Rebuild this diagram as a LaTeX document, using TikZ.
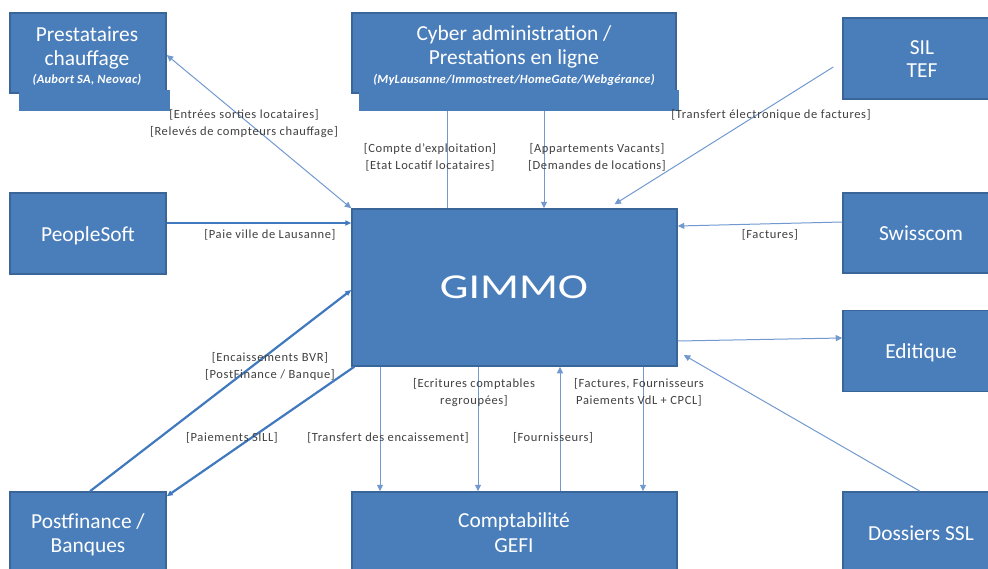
\documentclass[tikz,border=0pt]{standalone}
\usepackage{fontspec}
\setmainfont{Carlito}
\usepackage{graphicx}
\usetikzlibrary{arrows.meta}
\definecolor{boxfill}{HTML}{4A7EBB}
\definecolor{boxline}{HTML}{3A6598}
\definecolor{lnk}{HTML}{7199CF}
\definecolor{lnkdark}{HTML}{4079BD}
\definecolor{lbl}{HTML}{404040}
\begin{document}
\begin{tikzpicture}[x=1pt,y=-1pt,
  box/.style={draw=boxline,line width=1.5pt,fill=boxfill,inner sep=0pt},
  btxt/.style={text=white,inner sep=0pt,anchor=base,font=\fontsize{21.4}{25}\selectfont},
  stxt/.style={text=white,inner sep=0pt,anchor=base,font=\fontsize{12.5}{14}\selectfont\bfseries\itshape\addfontfeatures{LetterSpace=2}},
  lab/.style={text=lbl,font=\fontsize{12.5}{17}\selectfont\addfontfeatures{LetterSpace=5},inner sep=0pt,align=center},
  thinlink/.style={draw=lnk,line width=1pt,-{Triangle[length=6.5pt,width=6pt]}},
  thicklink/.style={draw=lnkdark,line width=2.2pt,-{Triangle[length=6pt,width=5pt]}},
]
\useasboundingbox (0,0) rectangle (988,568);
\clip (0,0) rectangle (988,568);

% boxes
\node[box,minimum width=156pt,minimum height=80pt] (pres) at (88,53) {};
\node[box,minimum width=324pt,minimum height=80pt] (cyber) at (514,53) {};
\node[box,minimum width=156pt,minimum height=81pt] (sil) at (921,58.5) {};
\node[box,minimum width=156pt,minimum height=81pt] (peop) at (88,233.5) {};
\node[box,minimum width=325pt,minimum height=157pt] (gimmo) at (514.5,287.5) {};
\node[box,minimum width=156pt,minimum height=80pt] (swiss) at (921,233) {};
\node[box,minimum width=156pt,minimum height=81pt] (edit) at (921,351) {};
\node[box,minimum width=156pt,minimum height=80pt] (doss) at (921,532) {};
\node[box,minimum width=325pt,minimum height=80pt] (compta) at (514.5,532) {};
\node[box,minimum width=156pt,minimum height=80pt] (postf) at (88,532) {};

% box texts
\node[btxt] (tpres1) at (87,41) {Prestataires};
\node[btxt] (tpres2) at (87,65) {chauffage};
\node[stxt] (tpres3) at (87,83) {(Aubort SA, Neovac)};
\node[btxt] (tcy1) at (514,40) {Cyber administration /};
\node[btxt] (tcy2) at (514,64) {Prestations en ligne};
\node[stxt] (tcy3) at (514,83) {(MyLausanne/Immostreet/HomeGate/Webgérance)};
\node[btxt] (tsil1) at (922,54) {SIL};
\node[btxt] (tsil2) at (922,77) {TEF};
\node[btxt] (tpeop) at (88,241) {PeopleSoft};
\node[btxt] (tswiss) at (921,240) {Swisscom};
\node[btxt] (tedit) at (921,358) {Editique};
\node[btxt] (tdoss) at (921,540) {Dossiers SSL};
\node[btxt] (tcomp1) at (514,527) {Comptabilité};
\node[btxt] (tcomp2) at (514,552) {GEFI};
\node[btxt] (tpost1) at (88,528) {Postfinance /};
\node[btxt] (tpost2) at (88,552) {Banques};
\node[text=white,inner sep=0pt,anchor=base,font=\fontsize{35}{40}\selectfont] (tgim) at (514,298) {\scalebox{1.3}[1]{GIMMO}};

% connectors
\draw[draw=lnk,line width=1pt,{Triangle[length=6.5pt,width=6pt]}-{Triangle[length=6.5pt,width=6pt]}]
  ([yshift=-2pt]pres.east) -- (gimmo.north west);
\draw[thinlink] ([xshift=-67.5pt]gimmo.north) -- ([xshift=-67pt]cyber.south);
\draw[thinlink] ([xshift=30pt]cyber.south) -- ([xshift=29.5pt]gimmo.north);
\draw[thinlink] ([xshift=-9pt,yshift=-8.5pt]sil.west) -- ([xshift=100pt,yshift=4pt]gimmo.north);
\draw[thinlink] ([yshift=11pt]swiss.west) -- ([yshift=61.5pt]gimmo.east);
\draw[thicklink,line width=1.6pt] ([yshift=10.5pt]peop.east) -- ([yshift=64.5pt]gimmo.west);
\draw[thicklink] ([xshift=2pt]postf.north) -- ([yshift=-2.5pt]gimmo.west);
\draw[thicklink] ([xshift=3pt]gimmo.south west) -- ([yshift=-5pt]postf.north east);
\draw[thinlink] ([xshift=-134.5pt]gimmo.south) -- ([xshift=-134.5pt]compta.north);
\draw[thinlink] ([xshift=-36.5pt]gimmo.south) -- ([xshift=-36.5pt]compta.north);
\draw[thinlink] ([xshift=45.5pt]compta.north) -- ([xshift=45.5pt]gimmo.south);
\draw[thinlink] ([xshift=128.5pt]gimmo.south) -- ([xshift=128.5pt]compta.north);
\draw[thinlink] ([yshift=-53.5pt]gimmo.east) -- ([yshift=13pt]edit.west);
\draw[thinlink] ([xshift=-1pt]doss.north) -- ([xshift=6pt,yshift=-67.5pt]gimmo.east);

% strips below the top boxes
\fill[boxfill] (19,90) rectangle (170,111);
\fill[boxfill] (359,90) rectangle (679,111);

% labels
\node[lab] (l1) at (244,123.5) {[Entrées sorties locataires]\\{}[Relevés de compteurs chauffage]};
\node[lab] (l2) at (430,157.5) {[Compte d’exploitation]\\{}[Etat Locatif locataires]};
\node[lab] (l3) at (597,157.5) {[Appartements Vacants]\\{}[Demandes de locations]};
\node[lab] (l4) at (771,115) {[Transfert électronique de factures]};
\node[lab] (l5) at (770,235) {[Factures]};
\node[lab] (l6) at (270,235) {[Paie ville de Lausanne]};
\node[lab] (l7) at (270,366) {[Encaissements BVR]\\{}[PostFinance / Banque]};
\node[lab] (l8) at (232,438) {[Paiements SILL]};
\node[lab] (l9) at (388,438) {[Transfert des encaissement]};
\node[lab] (l10) at (474,392.5) {[Ecritures comptables\\regroupées]};
\node[lab] (l11) at (553,438) {[Fournisseurs]};
\node[lab] (l12) at (639,392.5) {[Factures, Fournisseurs\\ Paiements VdL + CPCL]};
\end{tikzpicture}
\end{document}
